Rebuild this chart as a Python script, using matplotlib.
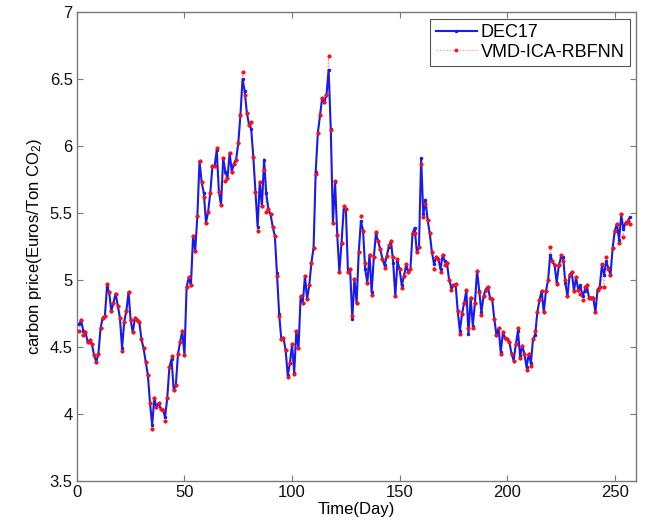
# IMPORTS
import numpy as np
import matplotlib
matplotlib.use('Agg')
import matplotlib.pyplot as plt
from matplotlib.ticker import FuncFormatter

# DATA (one value per day)
dec17 = [
    4.67, 4.70, 4.62, 4.61, 4.54, 4.55, 4.52, 4.44, 4.39, 4.45,
    4.64, 4.72, 4.73, 4.95, 4.91, 4.77, 4.83, 4.90, 4.81, 4.72,
    4.49, 4.69, 4.77, 4.91, 4.70, 4.61, 4.72, 4.70, 4.69, 4.56,
    4.49, 4.39, 4.29, 4.08, 3.92, 4.12, 4.05, 4.08, 4.04, 4.03,
    3.98, 4.12, 4.35, 4.41, 4.18, 4.22, 4.45, 4.54, 4.62, 4.44,
    4.95, 5.02, 4.96, 5.33, 5.22, 5.48, 5.89, 5.73, 5.65, 5.43,
    5.51, 5.65, 5.85, 5.85, 5.97, 5.66, 5.56, 5.91, 5.81, 5.76,
    5.95, 5.81, 5.87, 5.90, 6.02, 6.23, 6.50, 6.41, 6.25, 6.16,
    6.13, 5.92, 5.66, 5.40, 5.73, 5.55, 5.90, 5.65, 5.53, 5.49,
    5.40, 5.33, 5.05, 4.75, 4.56, 4.57, 4.48, 4.29, 4.38, 4.52,
    4.31, 4.62, 4.49, 4.88, 4.83, 5.03, 4.86, 4.96, 5.13, 5.24,
    5.81, 6.10, 6.23, 6.36, 6.33, 6.38, 6.57, 6.13, 5.43, 5.73,
    5.34, 5.06, 5.28, 5.53, 5.53, 5.06, 5.08, 4.71, 5.01, 4.83,
    5.21, 5.44, 5.37, 5.08, 4.98, 5.19, 4.91, 5.17, 5.35, 5.29,
    5.23, 5.16, 5.11, 5.18, 5.25, 5.29, 5.13, 4.88, 5.14, 5.08,
    4.96, 5.03, 5.11, 5.06, 5.08, 5.35, 5.39, 5.21, 5.25, 5.91,
    5.49, 5.60, 5.45, 5.35, 5.21, 5.12, 5.17, 5.16, 5.08, 5.19,
    5.14, 5.13, 5.00, 4.95, 4.96, 4.97, 4.77, 4.62, 4.75, 4.83,
    4.92, 4.60, 4.87, 4.66, 4.83, 5.07, 4.92, 4.76, 4.88, 4.93,
    4.95, 4.87, 4.86, 4.71, 4.59, 4.64, 4.46, 4.61, 4.57, 4.56,
    4.54, 4.45, 4.40, 4.52, 4.62, 4.43, 4.51, 4.45, 4.35, 4.45,
    4.38, 4.56, 4.59, 4.76, 4.85, 4.92, 4.76, 4.92, 5.00, 5.19,
    5.14, 5.11, 4.98, 5.11, 5.17, 5.17, 4.98, 4.88, 5.04, 5.06,
    4.92, 5.02, 4.93, 4.96, 4.88, 4.92, 4.96, 4.87, 4.87, 4.87,
    4.76, 4.93, 4.95, 5.11, 5.04, 5.14, 5.09, 5.04, 5.24, 5.37,
    5.42, 5.30, 5.49, 5.38, 5.43, 5.44, 5.47,
]

vmd_ica_rbfnn = [
    4.62, 4.70, 4.59, 4.61, 4.54, 4.55, 4.52, 4.44, 4.39, 4.45,
    4.64, 4.72, 4.73, 4.97, 4.91, 4.77, 4.83, 4.90, 4.81, 4.72,
    4.47, 4.69, 4.77, 4.91, 4.70, 4.61, 4.72, 4.70, 4.69, 4.56,
    4.49, 4.39, 4.29, 4.08, 3.89, 4.12, 4.05, 4.08, 4.04, 4.03,
    3.95, 4.12, 4.35, 4.43, 4.18, 4.22, 4.45, 4.54, 4.62, 4.44,
    4.95, 5.02, 4.96, 5.33, 5.22, 5.48, 5.89, 5.73, 5.62, 5.43,
    5.51, 5.65, 5.85, 5.85, 5.99, 5.66, 5.56, 5.91, 5.74, 5.76,
    5.95, 5.81, 5.87, 5.90, 6.02, 6.23, 6.55, 6.38, 6.25, 6.16,
    6.18, 5.92, 5.66, 5.37, 5.73, 5.55, 5.82, 5.51, 5.53, 5.49,
    5.40, 5.33, 5.03, 4.73, 4.56, 4.57, 4.48, 4.28, 4.38, 4.52,
    4.30, 4.62, 4.49, 4.88, 4.83, 5.03, 4.86, 4.96, 5.13, 5.24,
    5.79, 6.10, 6.23, 6.36, 6.33, 6.38, 6.67, 6.12, 5.43, 5.74,
    5.34, 5.06, 5.28, 5.55, 5.53, 5.06, 5.08, 4.73, 5.01, 4.83,
    5.21, 5.48, 5.37, 5.13, 4.98, 5.19, 4.89, 5.17, 5.36, 5.29,
    5.23, 5.16, 5.09, 5.18, 5.26, 5.29, 5.17, 4.88, 5.16, 5.08,
    4.94, 5.03, 5.12, 5.06, 5.08, 5.35, 5.35, 5.21, 5.25, 5.87,
    5.47, 5.57, 5.45, 5.35, 5.21, 5.08, 5.17, 5.16, 5.06, 5.19,
    5.11, 5.13, 5.00, 4.93, 4.96, 4.97, 4.77, 4.60, 4.75, 4.83,
    4.93, 4.64, 4.87, 4.64, 4.83, 5.07, 4.91, 4.74, 4.88, 4.93,
    4.95, 4.87, 4.86, 4.71, 4.59, 4.64, 4.45, 4.61, 4.57, 4.56,
    4.54, 4.45, 4.40, 4.52, 4.64, 4.42, 4.51, 4.45, 4.33, 4.45,
    4.36, 4.56, 4.62, 4.76, 4.85, 4.92, 4.76, 4.92, 5.00, 5.25,
    5.14, 5.11, 4.97, 5.11, 5.19, 5.14, 5.00, 4.88, 5.04, 5.06,
    4.92, 5.02, 4.93, 4.90, 4.85, 4.95, 4.96, 4.87, 4.87, 4.87,
    4.76, 4.93, 4.95, 5.12, 4.95, 5.17, 5.08, 5.04, 5.24, 5.37,
    5.42, 5.28, 5.49, 5.32, 5.43, 5.44, 5.42,
]

x_ticks = [0, 50, 100, 150, 200, 250]
y_ticks = [3.5, 4, 4.5, 5, 5.5, 6, 6.5, 7]

days = np.arange(1, len(dec17) + 1)

# STYLE (matlab look)
plt.rcParams['font.family'] = ['Liberation Sans', 'DejaVu Sans']
plt.rcParams['mathtext.fontset'] = 'custom'
plt.rcParams['mathtext.rm'] = 'Liberation Sans'
plt.rcParams['mathtext.it'] = 'Liberation Sans:italic'

fig = plt.figure(figsize=(6.46, 5.31), dpi=100)
ax = fig.add_axes([0.119, 0.094, 0.866, 0.883])

# PLOT
# dotted prediction line sits under the blue line, its dots on top
ax.plot(days, vmd_ica_rbfnn, color='#ff9090', ls=':', lw=0.9,
        marker='.', ms=3.5, mfc='#ff1010', mec='#ff1010',
        label='VMD-ICA-RBFNN', zorder=2)
ax.plot(days, dec17, color='#1a1aee', lw=1.5, marker='.', ms=3,
        label='DEC17', zorder=3)
ax.plot(days, vmd_ica_rbfnn, ls='none', marker='.', ms=3.5,
        mfc='#ff1010', mec='#ff1010', zorder=4)

ax.set_xlim(0, 260)
ax.set_ylim(3.5, 7)
ax.set_xticks(x_ticks)
ax.set_yticks(y_ticks)
ax.yaxis.set_major_formatter(FuncFormatter(lambda v, p: '%g' % v))

for s in ax.spines.values():
    s.set_color('#7a7a7a')
    s.set_linewidth(1.0)
ax.tick_params(direction='in', top=True, right=True, length=4,
               color='#7a7a7a', labelsize=12, labelcolor='#111111', pad=3)

ax.set_xlabel('Time(Day)', fontsize=12, labelpad=1)
ax.set_ylabel('carbon price(Euros/Ton CO$_2$)', fontsize=12, labelpad=4)

handles, labels = ax.get_legend_handles_labels()
leg = ax.legend(handles[::-1], labels[::-1], loc='upper right', fontsize=13,
                fancybox=False, framealpha=1, edgecolor='#555555',
                borderaxespad=0.35, handlelength=2.3, handletextpad=0.2,
                borderpad=0.3, labelspacing=0.15)
leg.get_frame().set_linewidth(0.8)

plt.savefig('out.png', dpi=100)
